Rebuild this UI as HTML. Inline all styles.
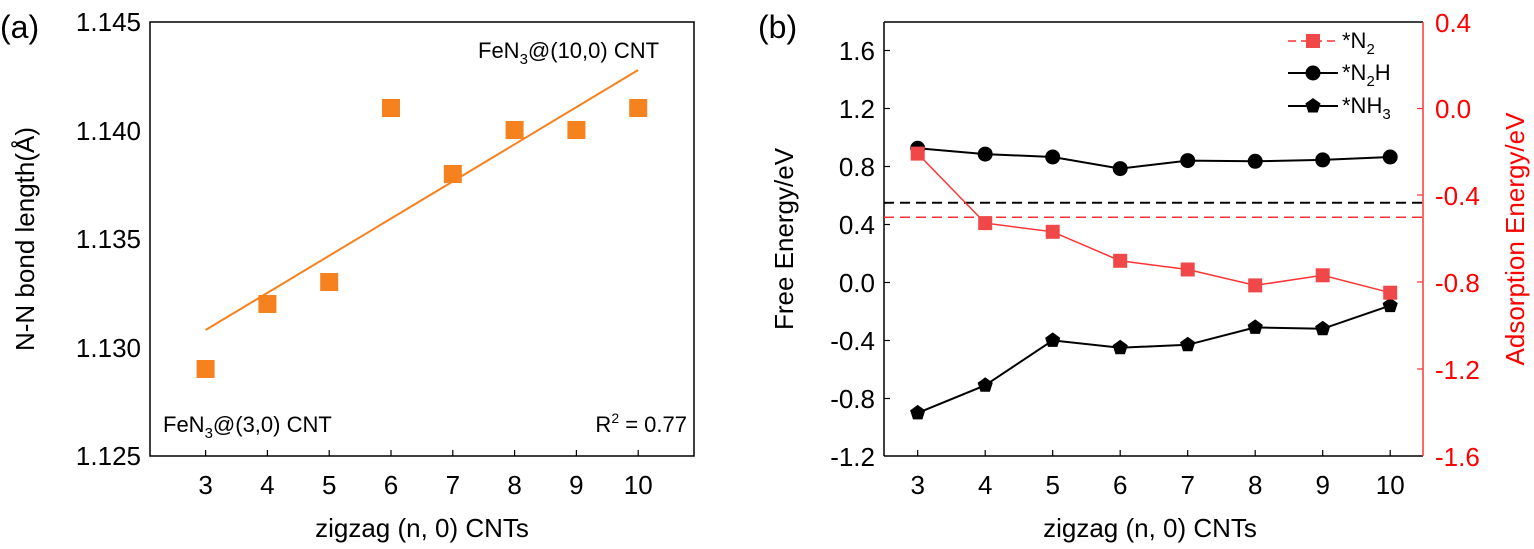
<!DOCTYPE html>
<html><head><meta charset="utf-8"><style>
body{margin:0;background:#fff}
text{font-family:"Liberation Sans",sans-serif}
</style></head><body>
<svg width="1534" height="544" viewBox="0 0 1534 544" xmlns="http://www.w3.org/2000/svg">
<!-- Panel a -->
<text x="0" y="38" font-size="32">(a)</text>
<rect x="150" y="22" width="544" height="434" fill="none" stroke="#000" stroke-width="1.5"/>
<g font-size="26" text-anchor="end">
<text x="141" y="31">1.145</text>
<text x="141" y="140">1.140</text>
<text x="141" y="248">1.135</text>
<text x="141" y="357">1.130</text>
<text x="141" y="465">1.125</text>
</g>
<g stroke="#000" stroke-width="1.2">
<line x1="205.6" y1="456" x2="205.6" y2="450"/><line x1="267.4" y1="456" x2="267.4" y2="450"/><line x1="329.2" y1="456" x2="329.2" y2="450"/><line x1="391" y1="456" x2="391" y2="450"/><line x1="452.8" y1="456" x2="452.8" y2="450"/><line x1="514.6" y1="456" x2="514.6" y2="450"/><line x1="576.4" y1="456" x2="576.4" y2="450"/><line x1="638.2" y1="456" x2="638.2" y2="450"/>
</g>
<g font-size="26" text-anchor="middle">
<text x="205.6" y="494">3</text><text x="267.4" y="494">4</text><text x="329.2" y="494">5</text><text x="391" y="494">6</text><text x="452.8" y="494">7</text><text x="514.6" y="494">8</text><text x="576.4" y="494">9</text><text x="638.2" y="494">10</text>
<text x="422" y="537">zigzag (n, 0) CNTs</text>
</g>
<text transform="translate(34,239) rotate(-90)" font-size="26" text-anchor="middle">N-N bond length(Å)</text>
<line x1="205.6" y1="330" x2="638.2" y2="70" stroke="#f5821f" stroke-width="2"/>
<g fill="#f5821f">
<rect x="196.6" y="360" width="18" height="18"/>
<rect x="258.4" y="295" width="18" height="18"/>
<rect x="320.2" y="273" width="18" height="18"/>
<rect x="382" y="99" width="18" height="18"/>
<rect x="443.8" y="165" width="18" height="18"/>
<rect x="505.6" y="121" width="18" height="18"/>
<rect x="567.4" y="121" width="18" height="18"/>
<rect x="629.2" y="99" width="18" height="18"/>
</g>
<text x="478" y="58" font-size="22">FeN<tspan font-size="15" dy="6">3</tspan><tspan dy="-6">@(10,0) CNT</tspan></text>
<text x="163" y="432" font-size="22">FeN<tspan font-size="15" dy="6">3</tspan><tspan dy="-6">@(3,0) CNT</tspan></text>
<text x="687" y="432" font-size="22" text-anchor="end">R<tspan font-size="14" dy="-9">2</tspan><tspan dy="9"> = 0.77</tspan></text>

<!-- Panel b -->
<text x="758" y="38" font-size="32">(b)</text>
<line x1="884" y1="22" x2="1423" y2="22" stroke="#000" stroke-width="1.5"/>
<line x1="884" y1="22" x2="884" y2="456" stroke="#000" stroke-width="1.5"/>
<line x1="884" y1="456" x2="1423" y2="456" stroke="#000" stroke-width="1.5"/>
<line x1="1423" y1="22" x2="1423" y2="456" stroke="#f33" stroke-width="1.5"/>
<g font-size="26" text-anchor="end">
<text x="875" y="60">1.6</text><text x="875" y="118">1.2</text><text x="875" y="176">0.8</text><text x="875" y="234">0.4</text><text x="875" y="292">0.0</text><text x="875" y="350">-0.4</text><text x="875" y="408">-0.8</text><text x="875" y="466">-1.2</text>
</g>
<g stroke="#000" stroke-width="1.2">
<line x1="884" y1="50.5" x2="890" y2="50.5"/><line x1="884" y1="108.5" x2="890" y2="108.5"/><line x1="884" y1="166.5" x2="890" y2="166.5"/><line x1="884" y1="224.5" x2="890" y2="224.5"/><line x1="884" y1="282.5" x2="890" y2="282.5"/><line x1="884" y1="340.5" x2="890" y2="340.5"/><line x1="884" y1="398.5" x2="890" y2="398.5"/>
<line x1="917.7" y1="456" x2="917.7" y2="450"/><line x1="985.2" y1="456" x2="985.2" y2="450"/><line x1="1052.7" y1="456" x2="1052.7" y2="450"/><line x1="1120.2" y1="456" x2="1120.2" y2="450"/><line x1="1187.7" y1="456" x2="1187.7" y2="450"/><line x1="1255.2" y1="456" x2="1255.2" y2="450"/><line x1="1322.7" y1="456" x2="1322.7" y2="450"/><line x1="1390.2" y1="456" x2="1390.2" y2="450"/>
</g>
<g stroke="#f33" stroke-width="1.2">
<line x1="1423" y1="108.5" x2="1417" y2="108.5"/><line x1="1423" y1="195" x2="1417" y2="195"/><line x1="1423" y1="282" x2="1417" y2="282"/><line x1="1423" y1="369" x2="1417" y2="369"/>
</g>
<g font-size="26" fill="#f00">
<text x="1435" y="32">0.4</text><text x="1435" y="118">0.0</text><text x="1435" y="205">-0.4</text><text x="1435" y="292">-0.8</text><text x="1435" y="379">-1.2</text><text x="1435" y="466">-1.6</text>
</g>
<text transform="translate(1524,239) rotate(-90)" font-size="26" fill="#f00" text-anchor="middle">Adsorption Energy/eV</text>
<text transform="translate(793,239) rotate(-90)" font-size="26" text-anchor="middle">Free Energy/eV</text>
<g font-size="26" text-anchor="middle">
<text x="917.7" y="494">3</text><text x="985.2" y="494">4</text><text x="1052.7" y="494">5</text><text x="1120.2" y="494">6</text><text x="1187.7" y="494">7</text><text x="1255.2" y="494">8</text><text x="1322.7" y="494">9</text><text x="1390.2" y="494">10</text>
<text x="1150" y="537">zigzag (n, 0) CNTs</text>
</g>
<line x1="884" y1="202.8" x2="1423" y2="202.8" stroke="#000" stroke-width="2" stroke-dasharray="10,6"/>
<line x1="884" y1="217.3" x2="1423" y2="217.3" stroke="#f33" stroke-width="1.5" stroke-dasharray="10,6"/>
<polyline fill="none" stroke="#000" stroke-width="2" points="917.7,148.3 985.2,154.1 1052.7,157 1120.2,168.6 1187.7,160.6 1255.2,161.3 1322.7,159.9 1390.2,157"/>
<g fill="#000">
<circle cx="917.7" cy="148.3" r="7.5"/><circle cx="985.2" cy="154.1" r="7.5"/><circle cx="1052.7" cy="157" r="7.5"/><circle cx="1120.2" cy="168.6" r="7.5"/><circle cx="1187.7" cy="160.6" r="7.5"/><circle cx="1255.2" cy="161.3" r="7.5"/><circle cx="1322.7" cy="159.9" r="7.5"/><circle cx="1390.2" cy="157" r="7.5"/>
</g>
<polyline fill="none" stroke="#000" stroke-width="2" points="917.7,412.9 985.2,385.3 1052.7,340.4 1120.2,347.7 1187.7,344.8 1255.2,327.4 1322.7,328.8 1390.2,305.6"/>
<g fill="#000">
<polygon points="0,-8 7.6,-2.5 4.7,6.5 -4.7,6.5 -7.6,-2.5" transform="translate(917.7,412.9)"/>
<polygon points="0,-8 7.6,-2.5 4.7,6.5 -4.7,6.5 -7.6,-2.5" transform="translate(985.2,385.3)"/>
<polygon points="0,-8 7.6,-2.5 4.7,6.5 -4.7,6.5 -7.6,-2.5" transform="translate(1052.7,340.4)"/>
<polygon points="0,-8 7.6,-2.5 4.7,6.5 -4.7,6.5 -7.6,-2.5" transform="translate(1120.2,347.7)"/>
<polygon points="0,-8 7.6,-2.5 4.7,6.5 -4.7,6.5 -7.6,-2.5" transform="translate(1187.7,344.8)"/>
<polygon points="0,-8 7.6,-2.5 4.7,6.5 -4.7,6.5 -7.6,-2.5" transform="translate(1255.2,327.4)"/>
<polygon points="0,-8 7.6,-2.5 4.7,6.5 -4.7,6.5 -7.6,-2.5" transform="translate(1322.7,328.8)"/>
<polygon points="0,-8 7.6,-2.5 4.7,6.5 -4.7,6.5 -7.6,-2.5" transform="translate(1390.2,305.6)"/>
</g>
<polyline fill="none" stroke="#f33" stroke-width="1.5" points="917.7,153.6 985.2,223.1 1052.7,231.8 1120.2,260.8 1187.7,269.5 1255.2,285.4 1322.7,275.3 1390.2,292.7"/>
<g fill="#f04848">
<rect x="910.7" y="146.6" width="14" height="14"/><rect x="978.2" y="216.1" width="14" height="14"/><rect x="1045.7" y="224.8" width="14" height="14"/><rect x="1113.2" y="253.8" width="14" height="14"/><rect x="1180.7" y="262.5" width="14" height="14"/><rect x="1248.2" y="278.4" width="14" height="14"/><rect x="1315.7" y="268.3" width="14" height="14"/><rect x="1383.2" y="285.7" width="14" height="14"/>
</g>
<line x1="1288" y1="41" x2="1338" y2="41" stroke="#f33" stroke-width="1.5" stroke-dasharray="8,5"/>
<rect x="1306" y="34" width="14" height="14" fill="#f04848"/>
<line x1="1288" y1="73" x2="1338" y2="73" stroke="#000" stroke-width="2"/>
<circle cx="1313" cy="73" r="7.5"/>
<line x1="1288" y1="106" x2="1338" y2="106" stroke="#000" stroke-width="2"/>
<polygon points="0,-8 7.6,-2.5 4.7,6.5 -4.7,6.5 -7.6,-2.5" transform="translate(1313,106)"/>
<g font-size="22">
<text x="1342" y="48">*N<tspan font-size="15" dy="6">2</tspan></text>
<text x="1342" y="80">*N<tspan font-size="15" dy="6">2</tspan><tspan dy="-6">H</tspan></text>
<text x="1342" y="113">*NH<tspan font-size="15" dy="6">3</tspan></text>
</g>
</svg>
</body></html>
